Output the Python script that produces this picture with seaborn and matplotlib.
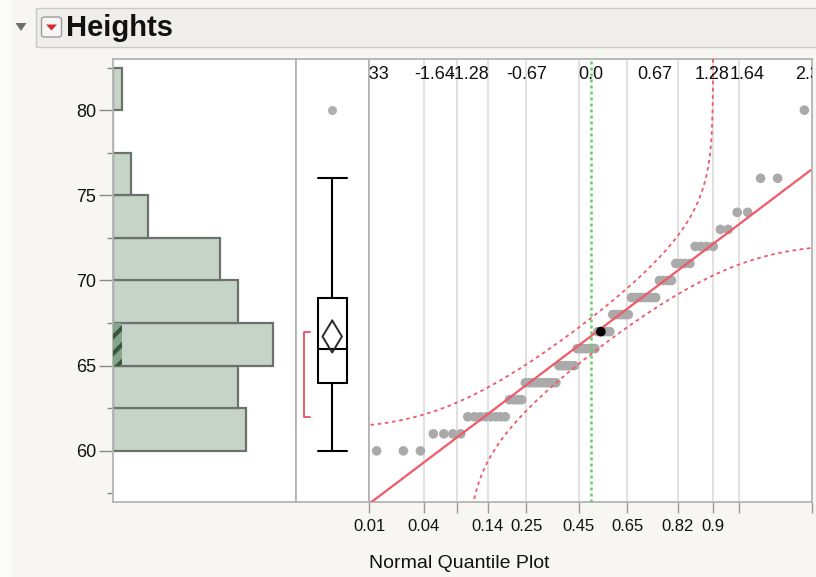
import numpy as np
import matplotlib
matplotlib.use("Agg")
import matplotlib.pyplot as plt
import matplotlib.transforms as mtransforms
from matplotlib import font_manager
from matplotlib.patches import FancyBboxPatch, Polygon
import seaborn as sns
from statistics import NormalDist

# ---- data: heights (inches) and how many people have each height ----
height_values = [60, 61, 62, 63, 64, 65, 66, 67, 68, 69, 70, 71, 72, 73, 74, 76, 80]
height_counts = [3, 4, 8, 4, 10, 6, 7, 5, 6, 8, 4, 4, 4, 2, 2, 2, 1]
selected_rank = 44          # highlighted row (sorted position, 1-based)
bin_edges = [60, 62.5, 65, 67.5, 70, 72.5, 75, 77.5, 80, 82.5]
y_ticks = [60, 65, 70, 75, 80]
quantile_labels = ["-2.33", "-1.64", "-1.28", "-0.67", "0.0", "0.67", "1.28", "1.64", "2.33"]
prob_ticks = [0.01, 0.04, 0.08, 0.14, 0.25, 0.45, 0.65, 0.82, 0.9, 0.94, 0.99]
prob_labels = ["0.01", "0.04", "", "0.14", "0.25", "0.45", "0.65", "0.82", "0.9", "", ""]

heights = np.repeat(height_values, height_counts).astype(float)
n = len(heights)
nd = NormalDist()

sns.set_theme(style="white")
avail = {f.name for f in font_manager.fontManager.ttflist}
base_font = "Liberation Sans" if "Liberation Sans" in avail else "DejaVu Sans"
narrow_font = "Liberation Sans Narrow" if "Liberation Sans Narrow" in avail else base_font
plt.rcParams["font.family"] = [base_font, "DejaVu Sans"]
plt.rcParams["hatch.linewidth"] = 3.0

W, H = 816, 577
fig = plt.figure(figsize=(W / 100, H / 100), dpi=100, facecolor="#fbfbfa")


def px_axes(x0, y0, x1, y1):
    return fig.add_axes([x0 / W, 1 - y1 / H, (x1 - x0) / W, (y1 - y0) / H])


def fx(x):
    return x / W


def fy(y):
    return 1 - y / H


# ---- report background and header ----
fig.patches.append(FancyBboxPatch((fx(12), 0), 1 - fx(12), 1, boxstyle="square,pad=0",
                                  transform=fig.transFigure, facecolor="#f7f6f3",
                                  edgecolor="none", zorder=-10))
fig.patches.append(FancyBboxPatch((fx(36), fy(47)), fx(830) - fx(36), fy(8) - fy(47),
                                  boxstyle="square,pad=0", transform=fig.transFigure,
                                  facecolor="#efeeea", edgecolor="#c8c8c4", lw=1.0, zorder=-5))
fig.patches.append(Polygon([(fx(15.5), fy(23)), (fx(26.5), fy(23)), (fx(21), fy(31))],
                           closed=True, transform=fig.transFigure,
                           facecolor="#6e6e6e", edgecolor="none"))
fig.patches.append(FancyBboxPatch((fx(41.5), fy(37)), fx(61.5) - fx(41.5), fy(17) - fy(37),
                                  boxstyle="round,pad=0,rounding_size=0.004",
                                  transform=fig.transFigure,
                                  facecolor="#f6f6f6", edgecolor="#9c9c9c", lw=1.0))
fig.patches.append(Polygon([(fx(46), fy(24.5)), (fx(57), fy(24.5)), (fx(51.5), fy(30.5))],
                           closed=True, transform=fig.transFigure,
                           facecolor="#d62a2f", edgecolor="none"))
fig.text(fx(66), fy(28), "Heights", fontsize=21, fontweight="bold", color="#111111",
         ha="left", va="center")

spine_col = "#b4b4b4"
ylo, yhi = 57, 83

ax_hist = px_axes(112.7, 59, 296, 502)
ax_box = px_axes(296, 59, 369, 502)
ax_q = px_axes(369, 59, 812, 502)
for ax in (ax_hist, ax_box, ax_q):
    ax.set_facecolor("white")
    for s in ax.spines.values():
        s.set_color(spine_col)
        s.set_linewidth(1.3)
        s.set_visible(True)
    ax.set_ylim(ylo, yhi)

# ---- histogram ----
sns.histplot(y=heights, bins=bin_edges, ax=ax_hist, color="#c6d4c8", edgecolor="#6b716b",
             linewidth=1.6, alpha=1.0)
sel_counts, _ = np.histogram(np.sort(heights)[[selected_rank - 1]], bins=bin_edges)
ax_hist.barh(bin_edges[:-1], sel_counts, height=np.diff(bin_edges), align="edge",
             facecolor="#86a48b", edgecolor="#3b5540", hatch="//", linewidth=0, zorder=3)
ax_hist.set_xlim(0, 20.55)
ax_hist.set_xticks([])
ax_hist.set_xlabel("")
ax_hist.set_ylabel("")
ax_hist.set_yticks(y_ticks)
ax_hist.set_yticklabels([str(v) for v in y_ticks])
ax_hist.set_yticks([57.5, 62.5, 67.5, 72.5, 77.5, 82.5], minor=True)
ax_hist.tick_params(axis="y", which="major", direction="out", length=10, width=1.0,
                    color="#8a8a8a", labelsize=13, labelcolor="#111111", pad=2, left=True)
ax_hist.tick_params(axis="y", which="minor", direction="out", length=4, width=1.0,
                    color="#8a8a8a", left=True)

# ---- outlier box plot ----
sns.boxplot(y=heights, ax=ax_box, width=0.8, color="white", linecolor="black",
            linewidth=1.5, whis=1.5, capwidths=0.8,
            flierprops=dict(marker="o", markerfacecolor="#b0b0b0",
                            markeredgecolor="none", markersize=6.5))
ax_box.set_xlim(-0.9986, 1.015)
ax_box.set_ylim(ylo, yhi)
ax_box.set_xticks([])
ax_box.set_yticks([])
ax_box.set_xlabel("")
ax_box.set_ylabel("")

mean = heights.mean()
sd = heights.std(ddof=1)
half_ci = 1.9905 * sd / np.sqrt(n)
hw = 0.268
ax_box.plot([0, hw, 0, -hw, 0], [mean + half_ci, mean, mean - half_ci, mean, mean + half_ci],
            color="#2a2a2a", lw=1.4, zorder=5)

# shortest half bracket
srt = np.sort(heights)
k = int(np.ceil(n / 2))
widths = srt[k - 1:] - srt[:n - k + 1]
i0 = int(np.argmin(widths))
sh_lo, sh_hi = srt[i0], srt[i0 + k - 1]
bx, serif = -0.77, -0.612
ax_box.plot([serif, bx, bx, serif], [sh_hi, sh_hi, sh_lo, sh_lo], color="#e8505c",
            lw=1.3, zorder=5)

# ---- normal quantile plot ----
ranks = np.arange(1, n + 1)
zq = np.array([nd.inv_cdf(r / (n + 1)) for r in ranks])
zmin, zmax = -2.31, 2.31
ax_q.set_xlim(zmin, zmax)

grid_z = [nd.inv_cdf(p) for p in prob_ticks]
for gz in grid_z[1:-1]:
    ax_q.axvline(gz, color="#dcdcdc", lw=1.2, zorder=0)

sns.scatterplot(x=zq, y=srt, ax=ax_q, color="#aaaaaa", s=48, edgecolor="none",
                linewidth=0, zorder=2)
ax_q.scatter([zq[selected_rank - 1]], [srt[selected_rank - 1]], s=48, color="black",
             edgecolor="none", zorder=6)

red = "#ef5a68"
zz = np.linspace(zmin, zmax, 400)
ax_q.plot(zz, mean + sd * zz, color=red, lw=1.6, zorder=4)

# Lilliefors confidence bounds
d = 0.886 / np.sqrt(n)
p_up = np.concatenate([np.linspace(nd.cdf(zmin) + d, 0.999, 600),
                       1 - np.logspace(-3, -9, 200)])
z_up = np.array([nd.inv_cdf(p - d) for p in p_up])
v_up = mean + sd * np.array([nd.inv_cdf(p) for p in p_up])
ax_q.plot(z_up, v_up, color=red, lw=1.3, ls=(0, (2, 2)), zorder=4)
p_lo = np.concatenate([np.logspace(-9, -3, 200), np.linspace(0.001, nd.cdf(zmax) - d, 600)])
z_lo = np.array([nd.inv_cdf(p + d) for p in p_lo])
v_lo = mean + sd * np.array([nd.inv_cdf(p) for p in p_lo])
ax_q.plot(z_lo, v_lo, color=red, lw=1.3, ls=(0, (2, 2)), zorder=4)

ax_q.axvline(0, color="#5fd35f", lw=1.8, ls=(0, (1.2, 1.2)), zorder=3)
ax_q.set_ylim(ylo, yhi)
ax_q.set_yticks([])
ax_q.set_ylabel("")

trans = mtransforms.blended_transform_factory(ax_q.transData, ax_q.transAxes)
for lab in quantile_labels:
    ax_q.text(float(lab), 0.964, lab, transform=trans, ha="center", va="center",
              fontsize=13, color="#111111", clip_on=True, zorder=7)

ax_q.set_xticks(grid_z)
ax_q.set_xticklabels(prob_labels, fontsize=12, color="#111111", family=[narrow_font, "DejaVu Sans"])
ax_q.tick_params(axis="x", direction="out", length=8, width=1.0, color="#999999",
                 pad=4, bottom=True)
ax_q.set_xlabel("")

fig.text(fx(369), fy(563), "Normal Quantile Plot", fontsize=14, color="#111111",
         ha="left", va="center")

fig.savefig("out.png", dpi=100, facecolor=fig.get_facecolor())
